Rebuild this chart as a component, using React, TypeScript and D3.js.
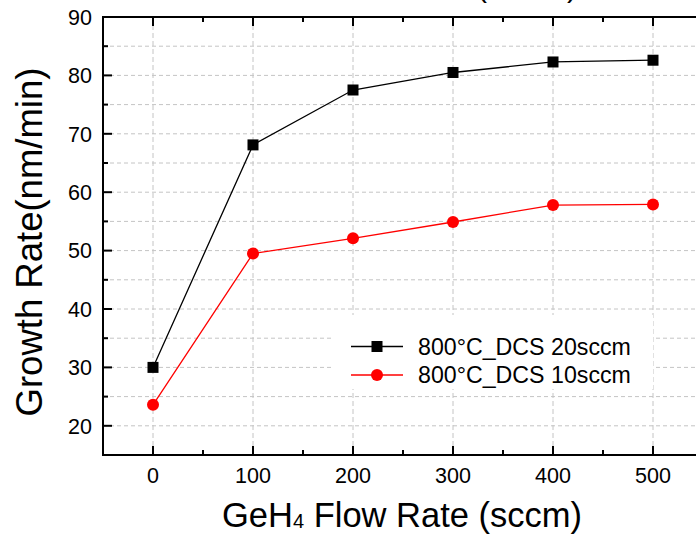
import React from "react";
import * as d3 from "d3";

const flowRates = [0, 100, 200, 300, 400, 500];
const dcs20 = [30.0, 68.1, 77.5, 80.5, 82.3, 82.6];
const dcs10 = [23.6, 49.5, 52.1, 54.9, 57.8, 57.9];
const xMajorTicks = [0, 100, 200, 300, 400, 500];
const xMinorTicks = [50, 150, 250, 350, 450];
const yMajorTicks = [20, 30, 40, 50, 60, 70, 80, 90];
const yMinorTicks = [25, 35, 45, 55, 65, 75, 85];
const yGridLines = [20, 25, 30, 35, 40, 45, 50, 55, 60, 65, 70, 75, 80, 85];
const legendLabels = ["800°C_DCS 20sccm", "800°C_DCS 10sccm"];

const W = 696;
const H = 538;
const FONT = "'Liberation Sans', Arial, Helvetica, sans-serif";

export default function App() {
  const x = d3.scaleLinear().domain([-50, 550]).range([103, 703]);
  const y = d3.scaleLinear().domain([15, 90]).range([455, 17]);
  const x0 = x(-50);
  const x1 = x(550);
  const y0 = y(15);
  const y1 = y(90);

  const line = d3
    .line<number>()
    .x((_, i) => x(flowRates[i]))
    .y((d) => y(d));

  const majorLen = 9;
  const minorLen = 5;
  const gridColor = "#c4c4c4";

  return (
    <svg
      width={W}
      height={H}
      style={{ position: "absolute", left: 0, top: 0, display: "block", background: "#fff" }}
      fontFamily={FONT}
    >
      <rect x={0} y={0} width={W} height={H} fill="#fff" />
      {/* clipped title fragment, as in the reference */}
      <text x={482} y={-3} fontSize={30} textAnchor="middle" fill="#000">(</text>
      <text x={572} y={-3} fontSize={30} textAnchor="middle" fill="#000">)</text>

      {/* grid */}
      {yGridLines.map((v) => (
        <line
          key={"hg" + v}
          x1={x0}
          x2={x1}
          y1={y(v)}
          y2={y(v)}
          stroke={gridColor}
          strokeWidth={1}
          strokeDasharray="4,3"
        />
      ))}
      {xMajorTicks.map((v) => (
        <line
          key={"vg" + v}
          x1={x(v)}
          x2={x(v)}
          y1={y1}
          y2={y0}
          stroke={gridColor}
          strokeWidth={1}
          strokeDasharray="5,3"
        />
      ))}

      {/* legend background */}
      <rect x={333} y={315} width={320} height={74} fill="#fff" />

      {/* series */}
      <path d={line(dcs20) || ""} fill="none" stroke="#000" strokeWidth={1.3} />
      <path d={line(dcs10) || ""} fill="none" stroke="#ff0000" strokeWidth={1.3} />
      {dcs20.map((v, i) => (
        <rect
          key={"s" + i}
          x={x(flowRates[i]) - 5.5}
          y={y(v) - 5.5}
          width={11}
          height={11}
          fill="#000"
        />
      ))}
      {dcs10.map((v, i) => (
        <circle key={"c" + i} cx={x(flowRates[i])} cy={y(v)} r={6} fill="#ff0000" />
      ))}

      {/* legend */}
      <g>
        <line x1={351} x2={403} y1={346.5} y2={346.5} stroke="#000" strokeWidth={1.3} />
        <rect x={371.5} y={341} width={11} height={11} fill="#000" />
        <text x={418} y={354.5} fontSize={23.2} fill="#000">{legendLabels[0]}</text>
        <line x1={351} x2={403} y1={375} y2={375} stroke="#ff0000" strokeWidth={1.3} />
        <circle cx={377} cy={375} r={6} fill="#ff0000" />
        <text x={418} y={383} fontSize={23.2} fill="#000">{legendLabels[1]}</text>
      </g>

      {/* axes frame */}
      <g stroke="#000" strokeWidth={2} fill="none">
        <line x1={x0} x2={x0} y1={y1 - 1} y2={y0 + 1} />
        <line x1={x0 - 1} x2={x1} y1={y0} y2={y0} />
        <line x1={x0 - 1} x2={x1} y1={y1} y2={y1} />
        <line x1={x1} x2={x1} y1={y1} y2={y0} />
        {xMajorTicks.map((v) => (
          <g key={"xt" + v}>
            <line x1={x(v)} x2={x(v)} y1={y0} y2={y0 - majorLen} />
            <line x1={x(v)} x2={x(v)} y1={y1} y2={y1 + majorLen} />
          </g>
        ))}
        {xMinorTicks.map((v) => (
          <g key={"xm" + v}>
            <line x1={x(v)} x2={x(v)} y1={y0} y2={y0 - minorLen} />
            <line x1={x(v)} x2={x(v)} y1={y1} y2={y1 + minorLen} />
          </g>
        ))}
        {yMajorTicks.map((v) => (
          <line key={"yt" + v} x1={x0} x2={x0 + majorLen} y1={y(v)} y2={y(v)} />
        ))}
        {yMinorTicks.map((v) => (
          <line key={"ym" + v} x1={x0} x2={x0 + minorLen} y1={y(v)} y2={y(v)} />
        ))}
      </g>

      {/* tick labels */}
      {xMajorTicks.map((v) => (
        <text key={"xl" + v} x={x(v)} y={483} fontSize={21.5} textAnchor="middle" fill="#000">
          {v}
        </text>
      ))}
      {yMajorTicks.map((v) => (
        <text key={"yl" + v} x={92} y={y(v) + 7.7} fontSize={21.5} textAnchor="end" fill="#000">
          {v}
        </text>
      ))}

      {/* axis titles */}
      <text x={402} y={527} fontSize={34.5} textAnchor="middle" fill="#000">
        GeH<tspan fontSize={20} dy={1}>4</tspan>
        <tspan dy={-1}> Flow Rate (sccm)</tspan>
      </text>
      <text
        transform={`translate(42, 242) rotate(-90)`}
        fontSize={36.5}
        textAnchor="middle"
        fill="#000"
      >
        Growth Rate(nm/min)
      </text>
    </svg>
  );
}
